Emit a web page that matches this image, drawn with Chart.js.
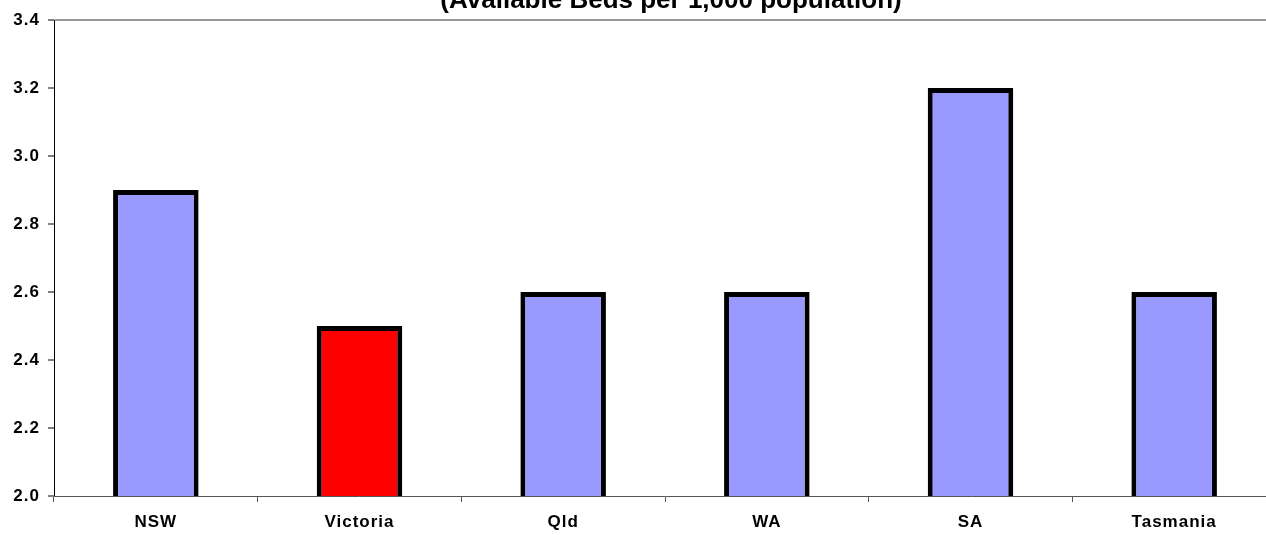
<!DOCTYPE html>
<html>
<head>
<meta charset="utf-8">
<script src="https://cdn.jsdelivr.net/npm/chart.js@4/dist/chart.umd.min.js"></script>
<style>
    html, body { margin: 0; padding: 0; background: #fff; overflow: hidden; }
    #wrap { position: relative; width: 1290px; height: 535px; }
</style>
</head>
<body>
<div id="wrap"><canvas id="chart-beds"></canvas></div>
<script>
const TITLE = "(Available Beds per 1,000 population)";
const states = ["NSW", "Victoria", "Qld", "WA", "SA", "Tasmania"];
const bedsPer1000 = [2.9, 2.5, 2.6, 2.6, 3.2, 2.6];
const barColors = ["#9999FF", "#FF0000", "#9999FF", "#9999FF", "#9999FF", "#9999FF"];
const yTicks = [2.0, 2.2, 2.4, 2.6, 2.8, 3.0, 3.2, 3.4];

const FONT = "'Liberation Sans', Arial, sans-serif";

// slightly loose lettering like the Excel original
const spacingPlugin = {
    id: "looseText",
    beforeDraw(chart) {
        chart.ctx.letterSpacing = "1px";
    }
};

// title sits partly above the visible area, as in the source image
const titlePlugin = {
    id: "cutTitle",
    afterDraw(chart) {
        const ctx = chart.ctx;
        ctx.save();
        ctx.letterSpacing = "0px";
        ctx.font = "bold 26px " + FONT;
        ctx.fillStyle = "#000";
        ctx.textAlign = "center";
        ctx.textBaseline = "alphabetic";
        ctx.fillText(TITLE, 671, 8);
        ctx.restore();
    }
};

const ctx = document.getElementById("chart-beds").getContext("2d");
new Chart(ctx, {
    type: "bar",
    data: {
        labels: states,
        datasets: [
            {
                label: "Beds",
                data: bedsPer1000,
                backgroundColor: barColors,
                borderColor: "#000",
                borderWidth: 5,
                borderSkipped: false,
                barPercentage: 0.42,
                categoryPercentage: 1,
            },
        ],
    },
    options: {
        responsive: true,
        maintainAspectRatio: false,
        animation: false,
        layout: { padding: { left: 0, top: 20, right: 14, bottom: 0 } },
        scales: {
            y: {
                min: 2.0,
                max: 3.4,
                afterFit: (scale) => { scale.width = 54; },
                afterBuildTicks: (scale) => { scale.ticks = yTicks.map((v) => ({ value: v })); },
                border: { color: "#000", width: 1 },
                grid: {
                    color: (c) => (c.tick && c.tick.value === 3.4 ? "#999" : "rgba(0,0,0,0)"),
                    lineWidth: 2,
                    tickColor: "#000",
                    tickLength: 6,
                    tickWidth: 1,
                },
                ticks: {
                    padding: 8,
                    color: "#000",
                    font: { family: FONT, size: 17, weight: "bold" },
                    callback: (v) => Number(v).toFixed(1),
                },
            },
            x: {
                afterFit: (scale) => { scale.height = 39; },
                border: { color: "#555", width: 1 },
                grid: {
                    offset: true,
                    drawOnChartArea: false,
                    tickColor: "#555",
                    tickLength: 6,
                },
                ticks: {
                    padding: 10,
                    color: "#000",
                    font: { family: FONT, size: 17, weight: "bold" },
                },
            },
        },
        plugins: {
            legend: { display: false },
            tooltip: { enabled: false },
        },
    },
    plugins: [spacingPlugin, titlePlugin],
});
</script>
</body>
</html>
